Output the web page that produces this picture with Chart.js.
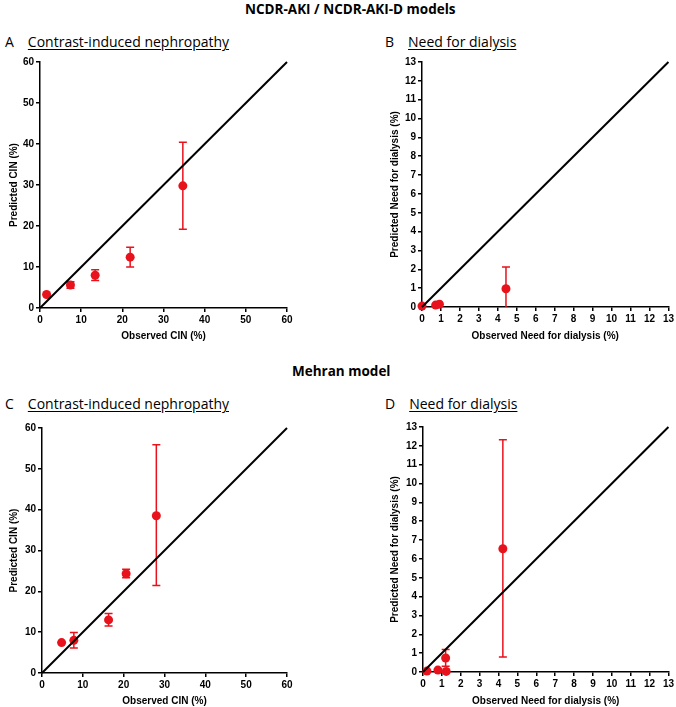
<!DOCTYPE html>
<html>
<head>
<meta charset="utf-8">
<script src="https://cdn.jsdelivr.net/npm/chart.js@4/dist/chart.umd.min.js"></script>
<style>
  body { margin: 0; background: #fff; width: 676px; height: 707px; position: relative; overflow: hidden; }
  .hdr { position: absolute; font-family: "Open Sans", sans-serif; font-weight: bold; font-size: 13.5px; color: #000; white-space: nowrap; }
  .lbl { position: absolute; font-family: "Open Sans", sans-serif; font-size: 14px; color: #000; white-space: nowrap; }
  .lbl u { margin-left: 14px; text-underline-offset: 2px; }
  .box { position: absolute; width: 300px; height: 292px; }
</style>
</head>
<body>
<div class="hdr" style="left:245px;top:0px">NCDR-AKI / NCDR-AKI-D models</div>
<div class="lbl" style="left:5px;top:32px">A<u>Contrast-induced nephropathy</u></div>
<div class="lbl" style="left:385px;top:32px">B<u>Need for dialysis</u></div>
<div class="hdr" style="left:292px;top:362px">Mehran model</div>
<div class="lbl" style="left:5px;top:394px">C<u>Contrast-induced nephropathy</u></div>
<div class="lbl" style="left:385px;top:394px">D<u>Need for dialysis</u></div>

<div class="box" style="left:0;top:50px"><canvas id="cA"></canvas></div>
<div class="box" style="left:376px;top:50px"><canvas id="cB"></canvas></div>
<div class="box" style="left:0;top:415px"><canvas id="cC"></canvas></div>
<div class="box" style="left:376px;top:415px"><canvas id="cD"></canvas></div>

<script>
// identity line end points
const lineCIN = [0, 60];
const lineDial = [0, 13];

// A: NCDR-AKI, contrast-induced nephropathy
const obsA = [1.6, 7.4, 13.4, 21.9, 34.7];
const predA = [3.3, 5.6, 8.0, 12.4, 29.8];
const lowA = [null, 4.8, 6.7, 10.0, 19.2];
const highA = [null, 6.4, 9.3, 14.8, 40.4];

// B: NCDR-AKI-D, need for dialysis
const obsB = [0, 0.72, 0.92, 4.43];
const predB = [0.05, 0.1, 0.15, 0.97];
const lowB = [null, null, null, 0];
const highB = [null, null, null, 2.12];

// C: Mehran, contrast-induced nephropathy
const obsC = [4.8, 7.8, 16.3, 20.6, 28.0];
const predC = [7.45, 8.0, 13.0, 24.3, 38.5];
const lowC = [null, 6.1, 11.5, 23.3, 21.4];
const highC = [null, 9.9, 14.6, 25.4, 55.9];

// D: Mehran, need for dialysis
const obsD = [0.21, 0.79, 1.23, 1.2, 4.23];
const predD = [0.05, 0.1, 0.03, 0.74, 6.54];
const lowD = [null, null, null, 0.3, 0.8];
const highD = [null, null, null, 1.19, 12.33];

const RED = "#e8121c";
const tickFont = { family: "Liberation Sans", weight: "bold", size: 10 };

// draws vertical error bars with caps from dataset.errLow / errHigh
const errorBars = {
  id: "errorBars",
  beforeDatasetsDraw(chart) {
    const ctx = chart.ctx;
    const xs = chart.scales.x, ys = chart.scales.y;
    chart.data.datasets.forEach((ds) => {
      if (!ds.errLow) return;
      ds.data.forEach((p, i) => {
        const lo = ds.errLow[i], hi = ds.errHigh[i];
        if (lo == null || hi == null) return;
        const px = xs.getPixelForValue(p.x);
        const y1 = ys.getPixelForValue(lo), y2 = ys.getPixelForValue(hi);
        ctx.save();
        ctx.strokeStyle = RED;
        ctx.lineWidth = 1.5;
        ctx.beginPath();
        ctx.moveTo(px, y1); ctx.lineTo(px, y2);
        ctx.moveTo(px - 4, y2); ctx.lineTo(px + 4, y2);
        if (lo > 0) { ctx.moveTo(px - 4, y1); ctx.lineTo(px + 4, y1); }
        ctx.stroke();
        ctx.restore();
      });
    });
  },
};

function makeChart(id, obs, pred, low, high, line, o) {
  const max = line[1];
  const step = max === 60 ? 10 : 1;
  const axis = (title, fit) => ({
    type: "linear",
    min: 0,
    max: max,
    border: { color: "#000", width: 1.5 },
    grid: { drawOnChartArea: false, drawTicks: true, tickLength: 4, color: "#000", lineWidth: 1.5 },
    ticks: { stepSize: step, autoSkip: false, color: "#000", font: tickFont, padding: 2, maxRotation: 0 },
    title: { display: true, text: title, color: "#000", font: { family: "Liberation Sans", weight: "bold", size: 10 }, padding: fit.tp },
    afterFit: fit.fn,
  });
  new Chart(document.getElementById(id), {
    type: "scatter",
    data: {
      datasets: [
        {
          type: "line",
          data: line.map((v) => ({ x: v, y: v })),
          borderColor: "#000",
          borderWidth: 2,
          pointRadius: 0,
          clip: false,
        },
        {
          data: obs.map((v, i) => ({ x: v, y: pred[i] })),
          errLow: low,
          errHigh: high,
          backgroundColor: RED,
          borderColor: RED,
          pointRadius: 4.5,
          borderWidth: 0,
          clip: false,
        },
      ],
    },
    options: {
      responsive: true,
      maintainAspectRatio: false,
      animation: false,
      events: [],
      layout: { padding: { top: o.pt, right: o.pr, left: 0, bottom: 0 } },
      plugins: { legend: { display: false }, tooltip: { enabled: false } },
      scales: {
        x: axis(o.xTitle, { tp: { top: o.xtp, bottom: 0 }, fn: (s) => { s.height = o.xh; } }),
        y: axis(o.yTitle, { tp: { top: o.ytp, bottom: 0 }, fn: (s) => { s.width = o.yw; } }),
      },
    },
    plugins: [errorBars],
  });
}

makeChart("cA", obsA, predA, lowA, highA, lineCIN,
  { xTitle: "Observed CIN (%)", yTitle: "Predicted CIN (%)", pt: 12, pr: 13, yw: 40, xh: 34, xtp: 3, ytp: 8 });
makeChart("cB", obsB, predB, lowB, highB, lineDial,
  { xTitle: "Observed Need for dialysis (%)", yTitle: "Predicted Need for dialysis (%)", pt: 12, pr: 7, yw: 46, xh: 35, xtp: 3, ytp: 13 });
makeChart("cC", obsC, predC, lowC, highC, lineCIN,
  { xTitle: "Observed CIN (%)", yTitle: "Predicted CIN (%)", pt: 13, pr: 13, yw: 42, xh: 34, xtp: 2, ytp: 8 });
makeChart("cD", obsD, predD, lowD, highD, lineDial,
  { xTitle: "Observed Need for dialysis (%)", yTitle: "Predicted Need for dialysis (%)", pt: 12, pr: 7, yw: 47, xh: 35, xtp: 3, ytp: 13 });
</script>
</body>
</html>
